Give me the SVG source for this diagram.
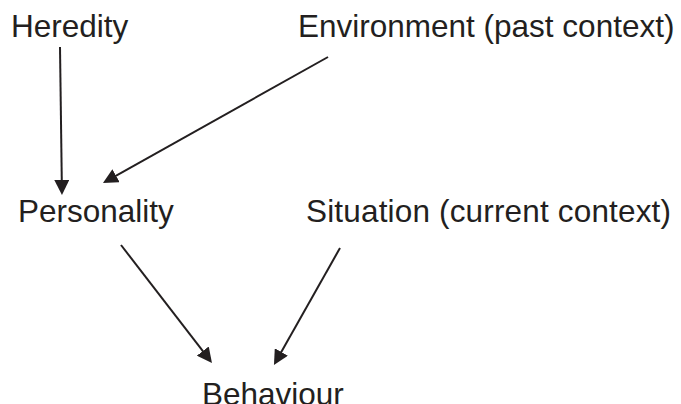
<svg xmlns="http://www.w3.org/2000/svg" width="681" height="404" viewBox="0 0 681 404">
<defs>
<style>
.lbl{font-family:"Liberation Sans",Arial,sans-serif;font-size:31.5px;fill:#231f20}
.edge{stroke:#231f20;stroke-width:2;fill:none;marker-end:url(#ah)}
</style>
<marker id="ah" viewBox="0 0 15 15" refX="9" refY="7.5" markerWidth="15" markerHeight="15" markerUnits="userSpaceOnUse" orient="auto">
<path d="M0,0 L15,7.5 L0,15 z" fill="#231f20"/>
</marker>
</defs>
<rect width="681" height="404" fill="#fff"/>
<g id="connectors">
<line class="edge" x1="60" y1="47" x2="61.9" y2="189"/>
<line class="edge" x1="328" y1="57" x2="108.2" y2="180.1"/>
<line class="edge" x1="121" y1="245" x2="208.3" y2="358.2"/>
<line class="edge" x1="340" y1="248" x2="276.9" y2="359.8"/>
</g>
<g id="heredity"><text class="lbl" x="11" y="37">Heredity</text></g>
<g id="environment"><text class="lbl" x="298" y="37">Environment (past context)</text></g>
<g id="personality"><text class="lbl" x="18" y="222">Personality</text></g>
<g id="situation"><text class="lbl" x="306" y="222" textLength="365" lengthAdjust="spacing">Situation (current context)</text></g>
<g id="behaviour"><text class="lbl" x="202" y="405">Behaviour</text></g>
</svg>
